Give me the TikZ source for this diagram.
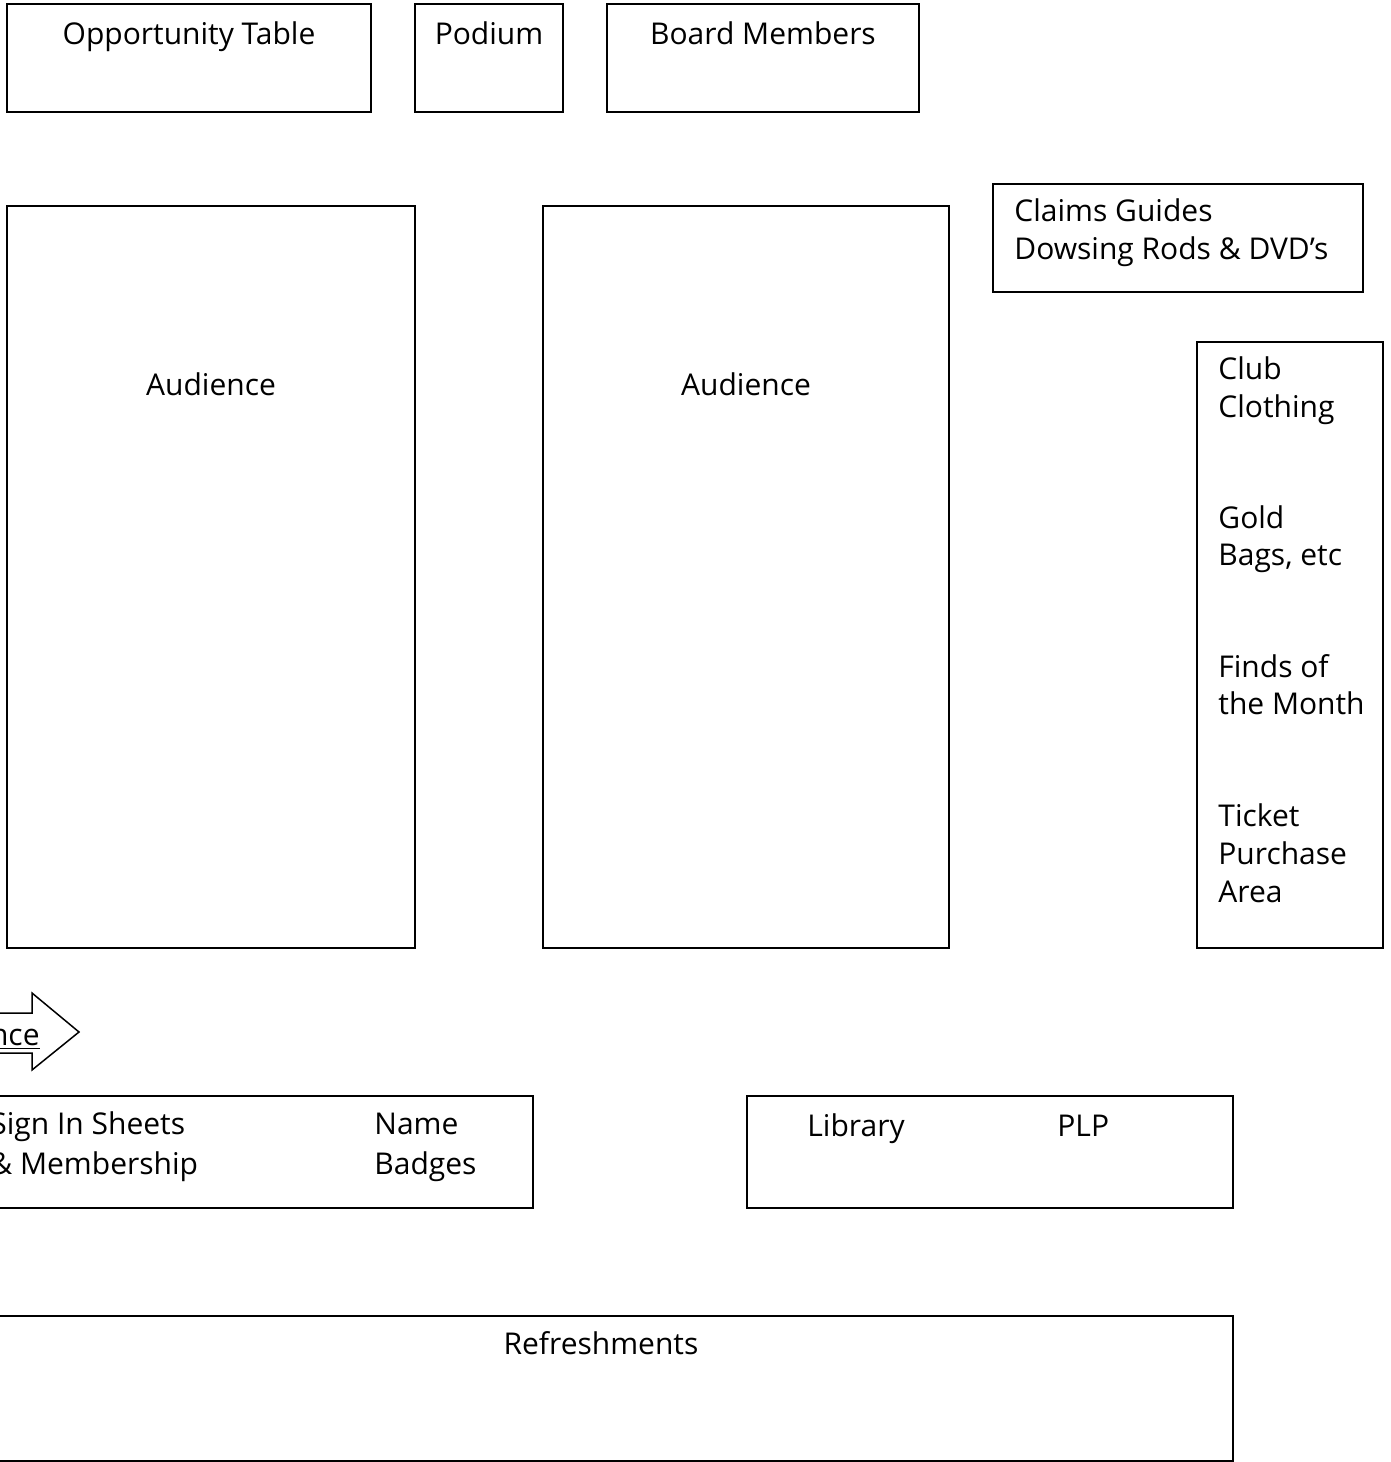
\documentclass[tikz,border=0pt]{standalone}
\usepackage{fontspec}
\setmainfont{Open Sans}
\begin{document}
\begin{tikzpicture}[x=0.5pt,y=0.5pt,yscale=-1,xscale=1,
  room/.style={draw, line width=1pt},
  lbl/.style={font=\fontsize{15}{19}\selectfont, inner sep=0pt}]
\useasboundingbox (0,0) rectangle (1391,1462);
\clip (0,0) rectangle (1391,1462);

%Shape: Rectangle [Opportunity Table]
\draw [room] (7,4) rectangle (371,112) ;
\node [lbl, anchor=mid] (opp) at (189,39) {Opportunity Table};
%Shape: Rectangle [Podium]
\draw [room] (415,4) rectangle (563,112) ;
\node [lbl, anchor=mid] (podium) at (489,39) {Podium};
%Shape: Rectangle [Board Members]
\draw [room] (607,4) rectangle (919,112) ;
\node [lbl, anchor=mid] (board) at (763,39) {Board Members};

%Shape: Rectangle [Claims Guides]
\draw [room] (993,184) rectangle (1363,292) ;
\node [lbl, anchor=mid west] (claims) at (1014,216) {Claims Guides};
\node [lbl, anchor=mid west] (rods) at (1014,254) {Dowsing Rods \& DVD’s};

%Shape: Rectangle [Audience left]
\draw [room] (7,206) rectangle (415,948) ;
\node [lbl, anchor=mid] (audA) at (211,390) {Audience};
%Shape: Rectangle [Audience right]
\draw [room] (543,206) rectangle (949,948) ;
\node [lbl, anchor=mid] (audB) at (746,390) {Audience};

%Shape: Rectangle [sales column]
\draw [room] (1197,342) rectangle (1383,948) ;
\node [lbl, anchor=mid west] (club) at (1218,374) {Club};
\node [lbl, anchor=mid west] (cloth) at (1218,412) {Clothing};
\node [lbl, anchor=mid west] (gold) at (1218,523) {Gold};
\node [lbl, anchor=mid west] (bags) at (1218,560) {Bags, etc};
\node [lbl, anchor=mid west] (finds) at (1218,672) {Finds of};
\node [lbl, anchor=mid west] (month) at (1218,709) {the Month};
\node [lbl, anchor=mid west] (ticket) at (1218,821) {Ticket};
\node [lbl, anchor=mid west] (purch) at (1218,859) {Purchase};
\node [lbl, anchor=mid west] (area) at (1218,897) {Area};

%Shape: Right Arrow [Entrance]
\draw [line width=0.75pt] (-160,1013) -- (32,1013) -- (32,993) -- (79,1032) -- (32,1070) -- (32,1053) -- (-160,1053) -- cycle ;
\node [lbl, anchor=mid east] (entr) at (40,1040) {\underline{Entrance}};

%Shape: Rectangle [Sign In]
\draw [room] (-40,1096) rectangle (533,1208) ;
\node [lbl, anchor=mid west] (sign) at (-10,1129) {Sign In Sheets};
\node [lbl, anchor=mid west] (memb) at (-10,1169) {\& Membership};
\node [lbl, anchor=mid west] (name) at (374,1129) {Name};
\node [lbl, anchor=mid west] (badge) at (374,1169) {Badges};

%Shape: Rectangle [Library]
\draw [room] (747,1096) rectangle (1233,1208) ;
\node [lbl, anchor=mid west] (lib) at (807,1131) {Library};
\node [lbl, anchor=mid west] (plp) at (1057,1131) {PLP};

%Shape: Rectangle [Refreshments]
\draw [room] (-31,1316) rectangle (1233,1461) ;
\node [lbl, anchor=mid] (refr) at (601,1349) {Refreshments};

\end{tikzpicture}
\end{document}
